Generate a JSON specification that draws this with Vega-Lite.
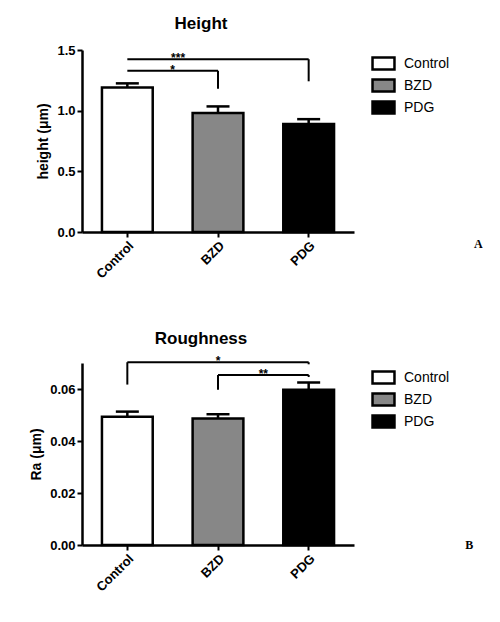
{
  "$schema": "https://vega.github.io/schema/vega-lite/v6.json",
  "padding": {"left": 29, "top": 15, "right": 0, "bottom": 0},
  "spacing": 49,
  "resolve": {"scale": {"fill": "independent"}, "legend": {"fill": "independent"}},
  "config": {
    "font": "Liberation Sans",
    "view": {"stroke": null},
    "title": {"fontSize": 17, "fontWeight": "bold", "color": "black", "dx": -17},
    "axis": {
      "grid": false,
      "domainColor": "black",
      "domainWidth": 2.5,
      "tickColor": "black",
      "tickWidth": 2,
      "tickSize": 5,
      "labelFont": "Liberation Sans",
      "labelFontWeight": "bold",
      "labelFontSize": 13,
      "labelColor": "black",
      "titleFont": "Liberation Sans",
      "titleFontWeight": "bold",
      "titleFontSize": 14,
      "titleColor": "black"
    },
    "legend": {
      "orient": "none",
      "legendX": 289,
      "symbolType": "M-1.22,-0.67H1.22V0.67H-1.22Z",
      "symbolSize": 324,
      "symbolStrokeColor": "black",
      "symbolStrokeWidth": 2.5,
      "symbolOpacity": 1,
      "labelFont": "Liberation Sans",
      "labelFontSize": 14,
      "labelColor": "black",
      "labelOffset": 10,
      "rowPadding": -1.5,
      "padding": 2
    }
  },
  "vconcat": [
    {
      "width": 272,
      "height": 182,
      "title": {"text": "Height", "offset": 11},
      "resolve": {"scale": {"x": "independent"}},
      "layer": [
        {
          "data": {"values": [
            {"group": "Control", "mean": 1.19, "upper": 1.225},
            {"group": "BZD", "mean": 0.98, "upper": 1.035},
            {"group": "PDG", "mean": 0.89, "upper": 0.93}
          ]},
          "layer": [
            {
              "mark": {"type": "bar", "stroke": "black", "strokeWidth": 2.5},
              "encoding": {
                "x": {"field": "group", "type": "nominal", "sort": ["Control", "BZD", "PDG"],
                  "scale": {"paddingInner": 0.44, "paddingOuter": 0.22},
                  "axis": {"title": null, "labelAngle": -45}},
                "y": {"field": "mean", "type": "quantitative",
                  "scale": {"domain": [0, 1.5], "nice": false},
                  "axis": {"title": "height (μm)", "values": [0, 0.5, 1, 1.5], "format": ".1f", "titlePadding": 6}},
                "fill": {"field": "group", "type": "nominal",
                  "scale": {"domain": ["Control", "BZD", "PDG"], "range": ["#ffffff", "#878787", "#000000"]},
                  "legend": {"title": null, "legendY": 1}}
              }
            },
            {
              "mark": {"type": "rule", "strokeWidth": 2.5, "color": "black"},
              "encoding": {
                "x": {"field": "group", "type": "nominal", "sort": ["Control", "BZD", "PDG"]},
                "y": {"field": "mean", "type": "quantitative"},
                "y2": {"field": "upper"}
              }
            },
            {
              "mark": {"type": "tick", "thickness": 2.5, "size": 23, "color": "black", "opacity": 1},
              "encoding": {
                "x": {"field": "group", "type": "nominal", "sort": ["Control", "BZD", "PDG"]},
                "y": {"field": "upper", "type": "quantitative"}
              }
            }
          ]
        },
        {
          "data": {"values": [
            {"xa": 0.5, "xb": 2.5, "ya": 1.424, "yb": 1.424},
            {"xa": 2.5, "xb": 2.5, "ya": 1.424, "yb": 1.242},
            {"xa": 0.5, "xb": 1.5, "ya": 1.328, "yb": 1.328},
            {"xa": 1.5, "xb": 1.5, "ya": 1.328, "yb": 1.18}
          ]},
          "mark": {"type": "rule", "strokeWidth": 2, "color": "black"},
          "encoding": {
            "x": {"field": "xa", "type": "quantitative", "scale": {"domain": [0, 3], "nice": false, "zero": false}, "axis": null},
            "x2": {"field": "xb"},
            "y": {"field": "ya", "type": "quantitative"},
            "y2": {"field": "yb"}
          }
        },
        {
          "data": {"values": [
            {"xs": 1.06, "ys": 1.424, "label": "***"},
            {"xs": 1.0, "ys": 1.328, "label": "*"}
          ]},
          "mark": {"type": "text", "fontSize": 12, "fontWeight": "bold", "color": "black", "baseline": "alphabetic", "dy": 3},
          "encoding": {
            "x": {"field": "xs", "type": "quantitative", "scale": {"domain": [0, 3], "nice": false, "zero": false}, "axis": null},
            "y": {"field": "ys", "type": "quantitative"},
            "text": {"field": "label"}
          }
        },
        {
          "data": {"values": [{"xs": 4.37, "ys": -0.1, "label": "A"}]},
          "mark": {"type": "text", "font": "Liberation Serif", "fontSize": 12, "fontWeight": "bold", "color": "black", "baseline": "middle", "align": "center"},
          "encoding": {
            "x": {"field": "xs", "type": "quantitative", "scale": {"domain": [0, 3], "nice": false, "zero": false}, "axis": null},
            "y": {"field": "ys", "type": "quantitative"},
            "text": {"field": "label"}
          }
        }
      ]
    },
    {
      "width": 272,
      "height": 182,
      "title": {"text": "Roughness", "offset": 7},
      "resolve": {"scale": {"x": "independent"}},
      "layer": [
        {
          "data": {"values": [
            {"group": "Control", "mean": 0.0493, "upper": 0.0513},
            {"group": "BZD", "mean": 0.0487, "upper": 0.0503},
            {"group": "PDG", "mean": 0.0597, "upper": 0.0625}
          ]},
          "layer": [
            {
              "mark": {"type": "bar", "stroke": "black", "strokeWidth": 2.5},
              "encoding": {
                "x": {"field": "group", "type": "nominal", "sort": ["Control", "BZD", "PDG"],
                  "scale": {"paddingInner": 0.44, "paddingOuter": 0.22},
                  "axis": {"title": null, "labelAngle": -45}},
                "y": {"field": "mean", "type": "quantitative",
                  "scale": {"domain": [0, 0.07], "nice": false},
                  "axis": {"title": "Ra (μm)", "values": [0, 0.02, 0.04, 0.06], "format": ".2f", "titlePadding": 6}},
                "fill": {"field": "group", "type": "nominal",
                  "scale": {"domain": ["Control", "BZD", "PDG"], "range": ["#ffffff", "#878787", "#000000"]},
                  "legend": {"title": null, "legendY": 2}}
              }
            },
            {
              "mark": {"type": "rule", "strokeWidth": 2.5, "color": "black"},
              "encoding": {
                "x": {"field": "group", "type": "nominal", "sort": ["Control", "BZD", "PDG"]},
                "y": {"field": "mean", "type": "quantitative"},
                "y2": {"field": "upper"}
              }
            },
            {
              "mark": {"type": "tick", "thickness": 2.5, "size": 23, "color": "black", "opacity": 1},
              "encoding": {
                "x": {"field": "group", "type": "nominal", "sort": ["Control", "BZD", "PDG"]},
                "y": {"field": "upper", "type": "quantitative"}
              }
            }
          ]
        },
        {
          "data": {"values": [
            {"xa": 0.5, "xb": 2.5, "ya": 0.0703, "yb": 0.0703},
            {"xa": 0.5, "xb": 0.5, "ya": 0.0703, "yb": 0.0617},
            {"xa": 2.5, "xb": 2.5, "ya": 0.0703, "yb": 0.0695},
            {"xa": 1.5, "xb": 2.5, "ya": 0.0654, "yb": 0.0654},
            {"xa": 1.5, "xb": 1.5, "ya": 0.0654, "yb": 0.0597},
            {"xa": 2.5, "xb": 2.5, "ya": 0.0654, "yb": 0.0646}
          ]},
          "mark": {"type": "rule", "strokeWidth": 2, "color": "black"},
          "encoding": {
            "x": {"field": "xa", "type": "quantitative", "scale": {"domain": [0, 3], "nice": false, "zero": false}, "axis": null},
            "x2": {"field": "xb"},
            "y": {"field": "ya", "type": "quantitative"},
            "y2": {"field": "yb"}
          }
        },
        {
          "data": {"values": [
            {"xs": 1.5, "ys": 0.0703, "label": "*"},
            {"xs": 2.0, "ys": 0.0654, "label": "**"}
          ]},
          "mark": {"type": "text", "fontSize": 12, "fontWeight": "bold", "color": "black", "baseline": "alphabetic", "dy": 3},
          "encoding": {
            "x": {"field": "xs", "type": "quantitative", "scale": {"domain": [0, 3], "nice": false, "zero": false}, "axis": null},
            "y": {"field": "ys", "type": "quantitative"},
            "text": {"field": "label"}
          }
        },
        {
          "data": {"values": [{"xs": 4.27, "ys": 0.0, "label": "B"}]},
          "mark": {"type": "text", "font": "Liberation Serif", "fontSize": 12, "fontWeight": "bold", "color": "black", "baseline": "middle", "align": "center"},
          "encoding": {
            "x": {"field": "xs", "type": "quantitative", "scale": {"domain": [0, 3], "nice": false, "zero": false}, "axis": null},
            "y": {"field": "ys", "type": "quantitative"},
            "text": {"field": "label"}
          }
        }
      ]
    }
  ]
}
